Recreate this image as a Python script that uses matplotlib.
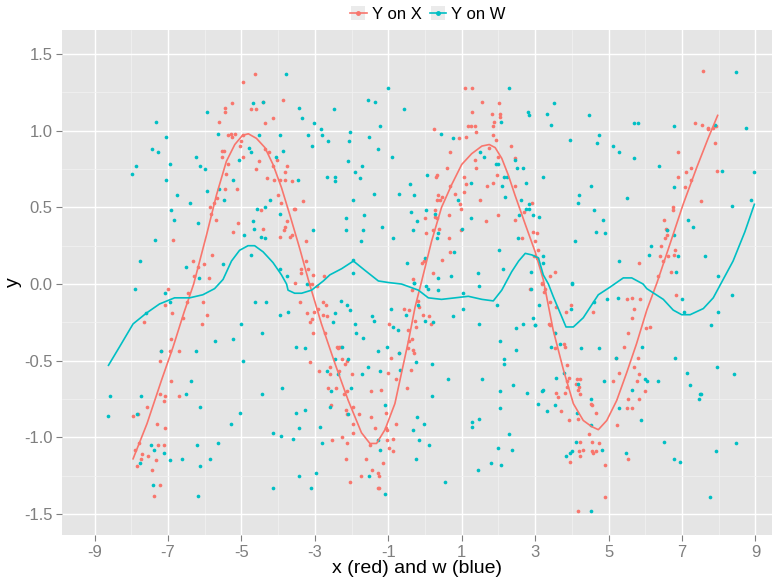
import matplotlib
matplotlib.use("Agg")
import matplotlib.pyplot as plt
from matplotlib.lines import Line2D
from matplotlib.patches import Rectangle
from matplotlib.ticker import MultipleLocator

RED = "#F8766D"
TEAL = "#00BFC4"

# scatter of y against x
x_pts = [-4.95, -4.62, -4.41, -4.75, -4.59, -5.44, -5.44, -5.25, -5.61, -3.88, -4.14, -4.35,
         -5.37, -5.28, -5.25, -5.17, -4.95, -5.02, -5.05, -4.96, -5.53, -5.48, -5.54, -4.36,
         -4.24, -4.04, -4.52, -5.37, -5.41, -4.59, -4.31, -4.12, -3.95, -3.81, -3.75, -3.80,
         -3.61, -4.15, -5.45, -5.12, -5.66, -5.74, -5.85, -5.82, -5.69, -5.10, -5.22, -4.42,
         -4.47, -4.00, -3.91, -3.75, -3.81, -3.84, -3.67, -3.62, -3.95, -3.57, -6.85, -5.81,
         -6.02, -6.33, -6.19, -6.30, -5.87,
         1.08, 1.27, 1.55, 2.01, 1.28, 1.83, 2.05, 2.04, 1.88, 1.18, 1.24, 1.36, 1.85, 1.39,
         0.25, 1.84, 1.12, 0.92, 1.94, 2.35, 1.75, 0.67, 1.99, 1.37, 1.38, 2.45, 0.61, 0.34,
         0.30, 1.07, 1.95, 1.11, 1.68, 1.85, 2.45, 0.69, 0.83, 1.05, 0.35, 0.46, 0.33, 0.40,
         0.96, 0.99, 1.51, 2.92, 2.69, 2.44, 0.28, 0.65, 0.28, 0.33, 1.98, 1.65, 0.00, 0.23,
         0.39, 0.02, 0.64, 0.97, 2.63, 0.69, 0.46, -0.03, -0.08, 0.21, -0.33, 2.96, -3.33,
         -3.55, -3.25, -3.23, -3.19, -3.38, -3.37, -3.04, -2.75, -3.17, -3.09,
         7.56, 7.36, 7.54, 7.72, 7.71, 7.83, 7.93, 7.89, 6.90, 7.24, 7.11, 7.96, 6.90, 7.25,
         7.09, 7.52, 6.76, 6.76, 6.51, 6.57, 6.60, 6.59, 6.54, 6.44, 6.81, 6.79, 6.41, 6.63,
         6.47, 5.82, 6.70, 6.34, 3.54, 3.40, 2.93, 3.04, 2.99, 3.08, 3.06, 3.18,
         -7.01, -6.45, -7.09, -6.48, -6.05, -6.89, -5.93, -6.59, -6.07, -7.65, -6.91, -7.19,
         -6.94, -6.71, -7.22, -6.92, -7.21, -7.08, -6.71, -7.11, -7.57, -7.96, -7.81, -7.30,
         -7.07, -7.80, -7.91, -7.70, -7.55, -7.74, -7.27, -7.12, -7.32, -7.85, -7.44, -7.21,
         -7.37, -3.55, -3.41,
         -3.21, -3.13, -3.07, -3.05, -2.94, -2.91, -3.02, -2.79, -2.70, -2.78, -2.66, -2.73,
         -3.13, -2.89, -2.41, -2.35, -2.29, -2.38, -2.27, -2.12, -2.18, -2.34, -2.58, -2.58,
         -2.00, -2.63, -2.43, -2.20, -2.13, -2.56, -1.95, -2.15, -2.12, -1.80, -1.96, -1.95,
         -2.25, -2.54, -2.13, -1.48, -1.35, -1.46, -1.20, -1.07, -1.05, -1.04, -0.78, -1.51,
         -1.03, -0.88, -0.99, -0.86, -2.14, -1.60, -1.14, -1.45, -1.74, -1.27, -1.25, -2.04,
         -1.29, -1.25, -0.92, -1.00, -0.79, -0.50, -0.37, -0.72, -0.98, -0.57, -0.43, -0.46,
         -0.43, -0.35, -0.45, -0.33, -0.31, -0.25, -0.28, -0.19, -0.17, -0.35, -0.05, 0.10,
         0.16, 2.86,
         3.18, 3.27, 3.24, 3.41, 3.58, 3.38, 3.40, 3.85, 3.98, 3.53, 3.53, 3.78, 3.81, 3.88,
         3.86, 3.93, 4.13, 4.23, 4.11, 4.20, 3.88, 4.16, 4.22, 3.57, 3.61, 3.80, 4.52, 4.55,
         4.67, 3.70, 3.92, 4.18, 4.46, 4.21, 4.55, 4.75, 4.29, 4.20, 4.22, 4.56, 4.66, 4.57,
         3.95, 4.89, 4.89, 4.18, 4.58, 5.11, 5.29, 5.20, 5.22, 5.43, 5.54, 5.49, 5.63, 5.70,
         5.65, 5.86, 6.03, 6.12, 5.70, 5.80, 5.83, 5.78, 5.98, 5.53, 5.84, 5.49, 5.65, 5.53,
         6.84]
y_x_pts = [1.315, 1.37, 1.19, 1.14, 1.14, 1.15, 1.12, 1.18, 1.06, 1.20, 1.08, 1.05,
           0.97, 0.98, 0.96, 0.98, 0.97, 0.93, 0.90, 0.83, 0.87, 0.87, 0.83, 0.88,
           0.86, 0.81, 0.80, 0.78, 0.72, 0.75, 0.69, 0.68, 0.68, 0.68, 0.77, 0.73,
           0.67, 0.77, 0.62, 0.62, 0.56, 0.53, 0.50, 0.46, 0.42, 0.40, 0.34, 0.36,
           0.48, 0.58, 0.53, 0.41, 0.37, 0.35, 0.31, 0.32, 0.31, 0.49, 0.29, 0.19,
           0.13, 0.15, 0.11, 0.05, 0.04,
           1.28, 1.28, 1.19, 1.18, 1.12, 1.11, 1.11, 1.09, 1.06, 1.03, 1.03, 1.03, 1.03, 0.99,
           1.01, 0.97, 0.96, 0.95, 0.94, 0.90, 0.89, 0.86, 0.83, 0.81, 0.76, 0.82, 0.76, 0.71,
           0.70, 0.70, 0.71, 0.65, 0.64, 0.66, 0.64, 0.64, 0.59, 0.60, 0.58, 0.57, 0.55, 0.55,
           0.52, 0.49, 0.55, 0.53, 0.47, 0.42, 0.48, 0.45, 0.44, 0.43, 0.45, 0.41, 0.43, 0.35,
           0.36, 0.33, 0.30, 0.35, 0.30, 0.21, 0.16, 0.15, 0.14, 0.07, 0.03, 0.18, 0.54,
           0.49, 0.28, 0.15, 0.10, 0.10, 0.07, 0.06, 0.05, 0.00, 0.00,
           1.39, 1.05, 1.04, 1.02, 1.01, 1.02, 1.03, 0.92, 0.86, 0.76, 0.73, 0.74, 0.70, 0.68,
           0.63, 0.54, 0.50, 0.48, 0.42, 0.36, 0.35, 0.32, 0.30, 0.25, 0.22, 0.19, 0.18, 0.18,
           0.15, 0.14, 0.08, 0.05, 0.08, 0.05, 0.34, 0.33, 0.28, 0.22, 0.17, 0.00,
           -0.03, -0.06, -0.14, -0.12, -0.12, -0.19, -0.20, -0.22, -0.26, -0.25, -0.36, -0.44,
           -0.44, -0.44, -0.50, -0.63, -0.72, -0.73, -0.73, -0.76, -0.80, -0.86, -0.85, -0.91,
           -0.94, -1.04, -1.08, -1.11, -1.12, -1.14, -1.05, -1.05, -1.15, -1.19, -1.21, -1.31,
           -1.38, 0.01, -0.12,
           -0.19, -0.25, -0.23, -0.32, -0.01, -0.16, -0.18, -0.12, -0.14, -0.20, -0.21, -0.32,
           -0.51, -0.57, -0.41, -0.41, -0.41, -0.42, -0.49, -0.50, -0.52, -0.57, -0.54, -0.59,
           -0.59, -0.68, -0.68, -0.72, -0.70, -0.79, -0.80, -0.82, -0.85, -0.85, -0.91, -0.97,
           -1.00, -1.02, -1.04, -0.87, -0.94, -0.70, -0.69, -0.84, -0.94, -0.95, -0.91, -1.05,
           -1.02, -1.01, -1.07, -1.09, -1.14, -1.14, -1.17, -1.21, -1.25, -1.23, -1.25, -1.29,
           -1.33, -1.33, -0.48, -0.58, -0.62, -0.68, -0.56, -0.45, -0.26, -0.16, -0.17, -0.30,
           -0.37, -0.36, -0.42, -0.43, -0.45, -0.28, -0.24, -0.11, -0.15, -0.04, -0.20, -0.21,
           -0.26, -0.03,
           0.01, -0.03, -0.05, -0.12, -0.15, -0.26, -0.27, -0.18, -0.14, -0.32, -0.42, -0.39, -0.41, -0.53,
           -0.63, -0.61, -0.62, -0.62, -0.65, -0.67, -0.67, -0.69, -0.72, -0.71, -0.74, -0.71, -0.78, -0.79,
           -0.84, -0.83, -0.89, -0.88, -0.98, -1.03, -1.03, -1.04, -1.08, -1.09, -1.12, -1.09, -1.09, -1.10,
           -1.16, -1.18, -1.39, -1.48, -0.18, -0.63, -0.58, -0.48, -0.92, -0.41, -0.32, -0.10, -0.09, -0.16,
           -0.22, -0.10, -0.29, -0.28, -0.54, -0.48, -0.59, -0.63, -0.70, -0.75, -0.75, -0.81, -0.81, -1.14,
           -0.07]

# scatter of y against w
w_pts = [-3.78, -4.42, -4.68, -5.94, -7.33, -7.06, -5.63, -4.53, -3.95, -7.44, -7.27, -4.79,
         -4.73, -3.87, -4.06, -6.23, -6.12, -6.00, -6.94, -7.88, -7.98, -7.05, -5.07, -5.24,
         -5.95, -5.61, -5.47, -6.75, -6.40, -6.93, -6.84, -4.21, -4.57, -4.36, -3.95, -4.68,
         -4.65, -4.48, -4.35, -6.18, -7.36, -4.93, -7.76, -4.75, -5.49, -6.50, -6.15, -3.94,
         -3.75,
         -1.02, 2.28, -1.54, -1.35, -0.57, -3.43, -3.35, -2.47, -3.03, -1.23, -2.84, -2.80,
         -3.18, -2.05, -1.53, -2.06, -2.64, -3.08, -1.27, 0.43, 0.75, 2.07, 2.81, 2.82,
         -0.89, -2.09, -1.91, -1.71, -1.76, -2.66, -2.45, -2.45, -3.47, -1.40, -0.72, -1.95,
         -0.40, -0.30, 0.05, 1.49, 1.61, 1.92, 2.00, 2.15, 2.22, 2.11, 2.19, 2.46,
         2.51, 2.68, 2.76, 2.62, 2.84, 2.75, 2.82, 2.95, 2.56, 1.25, 0.91, 0.02,
         0.28, -0.39, -0.21, -0.32, 1.25, 1.00, 0.35, 0.34, -2.16, -2.15, -1.65, -1.69,
         -1.73, -1.17, -0.87, -3.05, -1.97, -1.95, -0.49, -0.29, -0.01, 0.36, 0.72, 0.80,
         1.44, 2.02, 2.12, 2.53, 2.90,
         8.48, 3.52, 3.31, 3.44, 4.47, 5.70, 5.81, 6.79, 7.90, 8.73, 3.96, 4.75,
         4.68, 5.11, 5.28, 5.68, 6.38, 3.22, 4.53, 4.20, 4.16, 5.49, 6.78, 8.10,
         8.97, 8.89, 8.36, 4.61, 4.86, 4.65, 4.90, 4.09, 3.10, 7.17, 7.29, 6.60,
         6.78, 6.16, 6.10, 6.89, 7.63, 5.27, 6.83, 7.97, 3.99, 3.20, 3.20,
         -7.91, -7.09, -6.94, -7.60, -4.62, -4.33, -3.94, -3.73, -5.01, -4.45, -5.73, -5.22,
         -7.19, -6.25, -4.95, -6.38, -6.51, -8.57, -7.74, -4.45, -3.90, -6.13, -8.62, -7.84,
         -5.03, -5.28, -4.15, -3.91, -3.59, -5.63, -6.21, -7.47, -7.37, -7.12, -6.94, -6.62,
         -5.85, -7.75, -6.13, -7.40, -4.15, -6.17,
         -3.21, -2.28, -2.12, -2.03, -2.45, -2.51, -1.90, -1.88, -1.70, -1.44, -1.39, -3.52,
         -3.28, -2.26, -2.44, -2.10, -2.67, -2.36, -1.72, -1.55, -1.22, -1.27, -1.03, -2.01,
         -2.56, -2.58, -2.09, -3.52, -3.26, -3.43, -2.86, -2.80, -3.42, -2.97, -3.11, -1.53,
         -1.09, -1.22, -1.28, -1.10, -0.92, -0.87, -0.73, -0.51, -0.72, -0.69, -0.24, 0.20,
         0.18, -0.22, -0.02, -0.33, -0.17, 0.12, -0.25, 0.54, -0.31, 0.03, 0.08, 0.35,
         -0.19, -0.01, 0.23, 0.75, 1.04, 1.04, 0.63, 1.56, 1.47, 1.47, 1.96, 2.05,
         2.49, 2.15, 2.14, 2.66, 2.49, 2.94, 2.99, 2.41, 2.79, 2.05, 2.04, 1.47,
         1.29, 1.28, 2.30, 1.99, 2.37, 1.81, 2.06, 1.43,
         2.90, 3.99, 3.10, 3.00, 3.97, 3.53, 3.44, 3.68, 4.24, 4.73, 4.96, 5.26,
         4.61, 3.79, 3.58, 3.18, 3.21, 4.17, 3.09, 3.33, 3.55, 4.15, 4.51, 4.88,
         5.21, 5.92, 5.27, 5.65, 5.98, 6.05, 6.35, 5.88, 4.52, 4.10, 4.00, 3.95,
         3.85, 4.83, 5.47, 6.52, 6.78, 6.95, 4.52, 7.76, 7.93, 8.48, 6.82, 7.13,
         7.22, 7.48, 7.52, 7.46, 7.00, 7.04, 7.97, 7.80, 8.37, 7.94, 8.42]
y_w_pts = [1.37, 1.19, 1.18, 1.12, 1.06, 0.96, 0.98, 0.97, 0.97, 0.88, 0.86, 0.89,
           0.86, 0.87, 0.83, 0.83, 0.77, 0.75, 0.78, 0.77, 0.72, 0.68, 0.81, 0.68,
           0.61, 0.62, 0.55, 0.58, 0.53, 0.48, 0.42, 0.55, 0.49, 0.50, 0.46, 0.41,
           0.36, 0.31, 0.30, 0.40, 0.29, 0.32, 0.15, 0.19, 0.13, 0.11, 0.04, 0.10,
           0.05,
           1.28, 1.28, 1.20, 1.19, 1.14, 1.15, 1.08, 1.14, 1.05, 1.03, 1.01, 0.97,
           0.97, 0.99, 0.96, 0.93, 0.93, 0.90, 0.88, 0.98, 0.95, 1.06, 1.12, 1.10,
           0.83, 0.80, 0.73, 0.77, 0.69, 0.70, 0.70, 0.67, 0.68, 0.59, 0.59, 0.55,
           0.65, 0.58, 0.71, 0.86, 0.83, 0.78, 0.78, 0.70, 0.70, 0.64, 0.57, 0.81,
           0.76, 0.76, 0.66, 0.55, 0.52, 0.49, 0.49, 0.45, 0.45, 0.66, 0.55, 0.48,
           0.46, 0.47, 0.41, 0.35, 0.43, 0.36, 0.33, 0.30, 0.43, 0.35, 0.45, 0.35,
           0.28, 0.37, 0.30, 0.35, 0.16, 0.07, 0.14, 0.01, 0.17, 0.04, 0.05, 0.21,
           0.07, 0.22, 0.10, 0.30, 0.08,
           1.385, 1.18, 1.11, 1.04, 1.10, 1.05, 1.05, 1.03, 1.04, 1.02, 0.94, 0.97,
           0.92, 0.90, 0.86, 0.82, 0.77, 0.70, 0.64, 0.58, 0.53, 0.56, 0.63, 0.74,
           0.73, 0.55, 0.51, 0.48, 0.42, 0.34, 0.33, 0.28, 0.44, 0.42, 0.37, 0.35,
           0.32, 0.25, 0.19, 0.18, 0.18, 0.15, 0.08, 0.05, 0.00, 0.18, 0.14,
           -0.03, -0.06, -0.12, -0.19, -0.12, -0.12, -0.20, -0.18, -0.26, -0.32, -0.37, -0.36,
           -0.44, -0.44, -0.50, -0.63, -0.72, -0.73, -0.73, -0.72, -0.68, -0.80, -0.86, -0.85,
           -0.84, -0.91, -0.97, -0.99, -1.01, -1.04, -1.05, -1.05, -1.08, -1.10, -1.15, -1.14,
           -1.14, -1.17, -1.19, -1.31, -1.33, -1.38,
           0.00, -0.11, -0.14, -0.17, -0.19, -0.25, -0.26, -0.32, -0.35, -0.21, -0.24, -0.41,
           -0.42, -0.41, -0.49, -0.49, -0.57, -0.59, -0.59, -0.54, -0.57, -0.44, -0.41, -0.68,
           -0.70, -0.80, -0.85, -0.84, -0.82, -0.94, -0.93, -1.04, -1.25, -1.23, -1.33, -1.25,
           -1.37, -1.08, -1.02, -0.79, -0.16, -0.28, -0.30, -0.20, -0.45, -0.56, -0.51, -0.52,
           -0.73, -0.87, -0.91, -0.95, -1.02, -1.05, -1.14, -1.29, 0.01, -0.01, -0.03, -0.04,
           -0.14, -0.24, -0.25, -0.21, -0.06, -0.16, -0.62, -0.62, -0.01, -0.26, -0.14, -0.37,
           -0.43, -0.49, -0.52, -0.26, -0.29, -0.22, -0.27, -0.66, -0.71, -0.70, -0.81, -0.88,
           -0.90, -0.93, -0.98, -1.07, -1.08, -1.17, -1.18, -1.21,
           -0.03, 0.01, -0.14, -0.27, -0.16, -0.32, -0.41, -0.39, -0.42, -0.42, -0.10, -0.09,
           -0.12, -0.58, -0.61, -0.70, -0.69, -0.65, -0.78, -0.83, -0.79, -0.84, -0.75, -0.63,
           -0.48, -0.41, -0.81, -0.69, -0.62, -0.63, -0.63, -0.89, -0.92, -1.03, -1.09, -1.10,
           -1.12, -1.08, -1.10, -1.03, -1.14, -1.16, -1.48, -1.39, -1.09, -1.04, -0.48, -0.58,
           -0.66, -0.72, -0.72, -0.75, -0.10, -0.18, -0.18, -0.27, -0.07, -0.54, -0.59]

# smoothed fits
fit_x = [-7.95, -7.57, -7.18, -6.86, -6.57, -6.30, -5.95, -5.68, -5.41, -5.18, -4.97, -4.81,
         -4.59, -4.36, -4.14, -3.91, -3.68, -3.41, -3.18, -2.82, -2.45, -2.09, -1.73, -1.50,
         -1.32, -1.09, -0.82, -0.64, -0.45, -0.27, -0.09, 0.18, 0.45, 0.73, 1.00, 1.27,
         1.55, 1.75, 1.91, 2.09, 2.27, 2.45, 2.73, 3.00, 3.22, 3.49, 3.77, 4.04,
         4.31, 4.54, 4.72, 4.95, 5.22, 5.49, 5.76, 6.04, 6.32, 6.67, 7.03, 7.40,
         7.71, 7.97]
fit_y_x = [-1.14, -0.91, -0.63, -0.41, -0.19, 0.00, 0.32, 0.58, 0.80, 0.91, 0.97, 0.98,
           0.95, 0.89, 0.78, 0.63, 0.45, 0.23, 0.03, -0.26, -0.52, -0.76, -0.97, -1.04,
           -1.04, -0.95, -0.78, -0.58, -0.37, -0.15, 0.02, 0.28, 0.50, 0.65, 0.78, 0.85,
           0.90, 0.91, 0.89, 0.82, 0.71, 0.58, 0.39, 0.21, 0.03, -0.30, -0.56, -0.78,
           -0.89, -0.93, -0.95, -0.89, -0.76, -0.58, -0.39, -0.17, 0.01, 0.26, 0.52, 0.76,
           0.95, 1.10]

fit_w = [-8.62, -8.32, -7.95, -7.59, -7.23, -6.82, -6.41, -6.05, -5.73, -5.50, -5.27, -5.05,
         -4.82, -4.64, -4.41, -4.14, -3.91, -3.77, -3.73, -3.55, -3.36, -3.09, -2.77, -2.59,
         -2.27, -1.95, -1.64, -1.27, -1.00, -0.64, -0.41, -0.18, 0.09, 0.45, 0.82, 1.18,
         1.55, 1.86, 2.09, 2.18, 2.36, 2.55, 2.73, 2.91, 3.09, 3.22, 3.36, 3.49,
         3.84, 4.04, 4.31, 4.72, 5.04, 5.40, 5.63, 5.94, 6.04, 6.49, 6.76, 6.99,
         7.22, 7.58, 7.85, 8.12, 8.39, 8.71, 8.97]
fit_y_w = [-0.53, -0.41, -0.26, -0.19, -0.13, -0.09, -0.09, -0.07, -0.03, 0.03, 0.15, 0.22,
           0.25, 0.25, 0.21, 0.14, 0.06, 0.00, -0.04, -0.06, -0.06, -0.04, 0.02, 0.06,
           0.10, 0.15, 0.09, 0.02, 0.01, 0.00, -0.02, -0.04, -0.09, -0.10, -0.09, -0.08,
           -0.10, -0.11, -0.04, 0.00, 0.08, 0.15, 0.20, 0.19, 0.17, 0.06, 0.00, -0.08,
           -0.28, -0.28, -0.22, -0.07, -0.02, 0.04, 0.04, 0.00, -0.03, -0.10, -0.17, -0.20,
           -0.20, -0.16, -0.09, 0.03, 0.15, 0.34, 0.52]

x_ticks = [-9, -7, -5, -3, -1, 1, 3, 5, 7, 9]
y_ticks = [-1.5, -1.0, -0.5, 0.0, 0.5, 1.0, 1.5]

plt.rcParams['font.family'] = ['Liberation Sans', 'DejaVu Sans']

fig = plt.figure(figsize=(7.78, 5.8), dpi=100)
ax = fig.add_axes([62 / 778, 45 / 580, 710 / 778, 505 / 580])
ax.set_facecolor("#E5E5E5")

ax.scatter(x_pts, y_x_pts, s=7, color=RED, linewidths=0, zorder=3)
ax.scatter(w_pts, y_w_pts, s=7, color=TEAL, linewidths=0, zorder=3)
ax.plot(fit_x, fit_y_x, color=RED, lw=1.2, zorder=4)
ax.plot(fit_w, fit_y_w, color=TEAL, lw=1.2, zorder=4)

ax.set_xlim(-9.886, 9.45)
ax.set_ylim(-1.637, 1.657)
ax.set_xticks(x_ticks)
ax.set_xticklabels([str(t) for t in x_ticks])
ax.set_yticks(y_ticks)
ax.set_yticklabels(["%.1f" % t for t in y_ticks])
ax.xaxis.set_minor_locator(MultipleLocator(2))
ax.yaxis.set_minor_locator(MultipleLocator(0.25, offset=0.25))

ax.grid(which="major", color="white", lw=1.0, zorder=0)
ax.grid(which="minor", color="#F2F2F2", lw=0.5, zorder=0)
ax.set_axisbelow(True)
for s in ax.spines.values():
    s.set_visible(False)
ax.tick_params(which="major", length=4, color="#7F7F7F", labelcolor="#7F7F7F",
               labelsize=12, pad=3)
ax.tick_params(which="minor", length=0)

ax.set_xlabel("x (red) and w (blue)", fontsize=14, labelpad=0)
ax.set_ylabel("y", fontsize=14)
ax.yaxis.set_label_coords(-0.056, 0.5)

handles = [Line2D([], [], color=RED, lw=1.2, marker="o", markersize=2.5),
           Line2D([], [], color=TEAL, lw=1.2, marker="o", markersize=2.5)]
leg = fig.legend(handles, ["Y on X", "Y on W"], loc="upper center",
                 bbox_to_anchor=(0.55, 1.014), ncol=2, frameon=False, fontsize=12,
                 handlelength=1.0, handletextpad=0.3, columnspacing=0.5)

# grey key boxes behind the legend symbols
fig.canvas.draw()
for h in leg.legend_handles:
    bb = h.get_window_extent(fig.canvas.get_renderer())
    cx, cy = (bb.x0 + bb.x1) / 2, (bb.y0 + bb.y1) / 2
    fig.patches.append(Rectangle((cx - 7, cy - 7), 14, 14, transform=None,
                                 facecolor="#EBEBEB", edgecolor="none", zorder=1))

fig.savefig("out.png", dpi=100)
